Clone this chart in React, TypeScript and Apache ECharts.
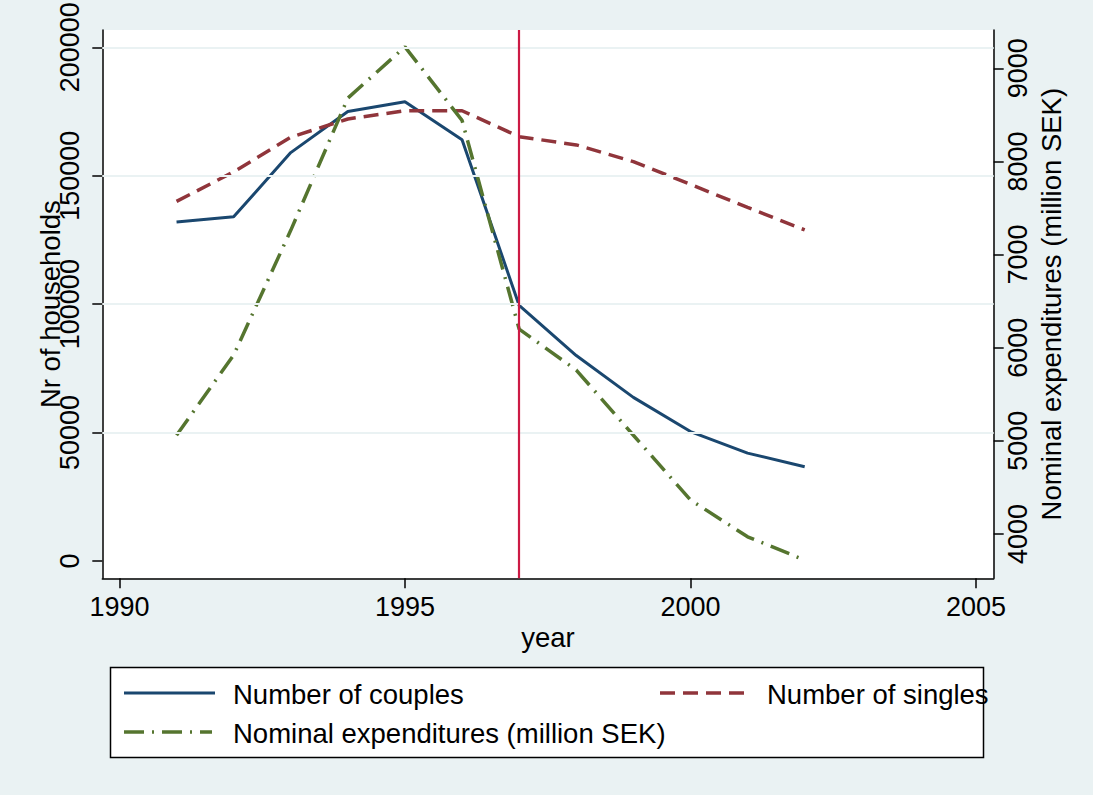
import React, { useEffect, useRef } from "react";
import * as echarts from "echarts";

// Survey years and the three tracked series
const years = [1991, 1992, 1993, 1994, 1995, 1996, 1997, 1998, 1999, 2000, 2001, 2002];
const couples = [132000, 134000, 159000, 175000, 178800, 164000, 99500, 80000, 63700, 50400, 42000, 36700];
const singles = [140000, 151500, 165000, 172100, 175300, 175300, 165200, 162000, 155500, 146600, 137700, 128900];
const expenditures = [5060, 5920, 7260, 8680, 9230, 8440, 6200, 5760, 5060, 4365, 3970, 3720];

// Axis ticks
const xTicks = [1990, 1995, 2000, 2005];
const leftTicks = [0, 50000, 100000, 150000, 200000];
const rightTicks = [4000, 5000, 6000, 7000, 8000, 9000];
const gridValues = [50000, 100000, 150000, 200000];
const reformYear = 1997;

const seriesNames = ["Number of couples", "Number of singles", "Nominal expenditures (million SEK)"];

const NAVY = "#1a476f";
const MAROON = "#90353b";
const GREEN = "#55752f";
const RED = "#cc1a44";
const BG = "#eaf2f3";
const FONT = "'Liberation Sans Narrow', 'Arial Narrow', 'Liberation Sans', Arial, sans-serif";
const TICK_SIZE = 27;
const TEXT_SIZE = 27.5;

const pairs = (vals: number[]) => years.map((y, i) => [y, vals[i]]);

const axisLineStyle = { color: "#000", width: 1.5 };
const labelStyle = { fontFamily: FONT, fontSize: TICK_SIZE, color: "#000" };
const nameStyle = { fontFamily: FONT, fontSize: TEXT_SIZE, color: "#000" };
const plain = (v: number) => String(v);

export default function App() {
  const ref = useRef<HTMLDivElement>(null);

  useEffect(() => {
    if (!ref.current) return;
    const chart = echarts.init(ref.current, undefined, { renderer: "svg" });

    const option: any = {
      animation: false,
      backgroundColor: BG,
      grid: {
        left: 102.3,
        right: 99.3,
        top: 30,
        bottom: 216.7,
        show: true,
        backgroundColor: "#fff",
        borderWidth: 0,
        containLabel: false,
        outerBoundsMode: "none",
      },
      xAxis: {
        type: "value",
        min: 1989.7,
        max: 2005.31,
        axisLine: { show: true, onZero: false, lineStyle: axisLineStyle },
        axisTick: { show: true, length: 10, customValues: xTicks, lineStyle: axisLineStyle },
        axisLabel: { customValues: xTicks, formatter: plain, margin: 15, ...labelStyle },
        splitLine: { show: false },
        name: "year",
        nameLocation: "middle",
        nameGap: 45,
        nameMoveOverlap: false,
        nameTextStyle: nameStyle,
      },
      yAxis: [
        {
          type: "value",
          position: "left",
          min: -6736,
          max: 206736,
          axisLine: { show: true, onZero: false, lineStyle: axisLineStyle },
          axisTick: { show: true, length: 10, customValues: leftTicks, lineStyle: axisLineStyle },
          axisLabel: { customValues: leftTicks, formatter: plain, rotate: 90, margin: 18.5, ...labelStyle },
          splitLine: { show: false },
          name: "Nr of households",
          nameLocation: "middle",
          nameRotate: 90,
          nameGap: 38,
          nameMoveOverlap: false,
          nameTextStyle: nameStyle,
        },
        {
          type: "value",
          position: "right",
          min: 3524,
          max: 9411,
          axisLine: { show: true, onZero: false, lineStyle: axisLineStyle },
          axisTick: { show: true, length: 10, customValues: rightTicks, lineStyle: axisLineStyle },
          axisLabel: { customValues: rightTicks, formatter: plain, rotate: 90, margin: 10.5, ...labelStyle },
          splitLine: { show: false },
          name: "Nominal expenditures (million SEK)",
          nameLocation: "middle",
          nameRotate: 90,
          nameGap: 44,
          nameMoveOverlap: false,
          nameTextStyle: nameStyle,
        },
      ],
      series: [
        {
          // horizontal grid lines behind the data
          type: "line",
          name: "gridlines",
          data: [],
          z: 1,
          silent: true,
          markLine: {
            silent: true,
            symbol: "none",
            label: { show: false },
            emphasis: { disabled: true },
            lineStyle: { color: BG, width: 2, type: "solid" },
            data: gridValues.map((v) => ({ yAxis: v })),
          },
        },
        {
          type: "line",
          name: seriesNames[0],
          data: pairs(couples),
          yAxisIndex: 0,
          showSymbol: false,
          symbol: "none",
          z: 3,
          lineStyle: { color: NAVY, width: 3 },
          itemStyle: { color: NAVY },
        },
        {
          type: "line",
          name: seriesNames[1],
          data: pairs(singles),
          yAxisIndex: 0,
          showSymbol: false,
          symbol: "none",
          z: 3,
          lineStyle: { color: MAROON, width: 3.5, type: [15, 8] },
          itemStyle: { color: MAROON },
        },
        {
          type: "line",
          name: seriesNames[2],
          data: pairs(expenditures),
          yAxisIndex: 1,
          showSymbol: false,
          symbol: "none",
          z: 3,
          lineStyle: { color: GREEN, width: 3.5, type: [20, 8, 2, 8] },
          itemStyle: { color: GREEN },
        },
        {
          // vertical reference line at the reform year
          type: "line",
          name: "reform",
          data: [],
          z: 10,
          silent: true,
          markLine: {
            silent: true,
            symbol: "none",
            label: { show: false },
            emphasis: { disabled: true },
            lineStyle: { color: RED, width: 2.2, type: "solid" },
            data: [{ xAxis: reformYear }],
          },
        },
      ],
      graphic: [
        {
          type: "rect",
          shape: { x: 110.5, y: 667.5, width: 873, height: 90 },
          style: { fill: "#fff", stroke: "#000", lineWidth: 1.5 },
          z: 0,
        },
        {
          type: "line",
          shape: { x1: 124, y1: 693, x2: 215, y2: 693 },
          style: { stroke: NAVY, lineWidth: 3 },
          z: 1,
        },
        {
          type: "text",
          x: 233,
          y: 694,
          style: { text: seriesNames[0], fontFamily: FONT, fontSize: TEXT_SIZE, fill: "#000", verticalAlign: "middle" },
          z: 1,
        },
        {
          type: "line",
          shape: { x1: 660, y1: 693, x2: 750, y2: 693 },
          style: { stroke: MAROON, lineWidth: 3.5, lineDash: [15, 8] },
          z: 1,
        },
        {
          type: "text",
          x: 767,
          y: 694,
          style: { text: seriesNames[1], fontFamily: FONT, fontSize: TEXT_SIZE, fill: "#000", verticalAlign: "middle" },
          z: 1,
        },
        {
          type: "line",
          shape: { x1: 124, y1: 732, x2: 212, y2: 732 },
          style: { stroke: GREEN, lineWidth: 3.5, lineDash: [20, 8, 2, 8] },
          z: 1,
        },
        {
          type: "text",
          x: 233,
          y: 733,
          style: { text: seriesNames[2], fontFamily: FONT, fontSize: TEXT_SIZE, fill: "#000", verticalAlign: "middle" },
          z: 1,
        },
      ],
    };

    chart.setOption(option);
    return () => chart.dispose();
  }, []);

  return (
    <div
      ref={ref}
      style={{ position: "fixed", left: 0, top: 0, width: 1093, height: 795 }}
    />
  );
}
